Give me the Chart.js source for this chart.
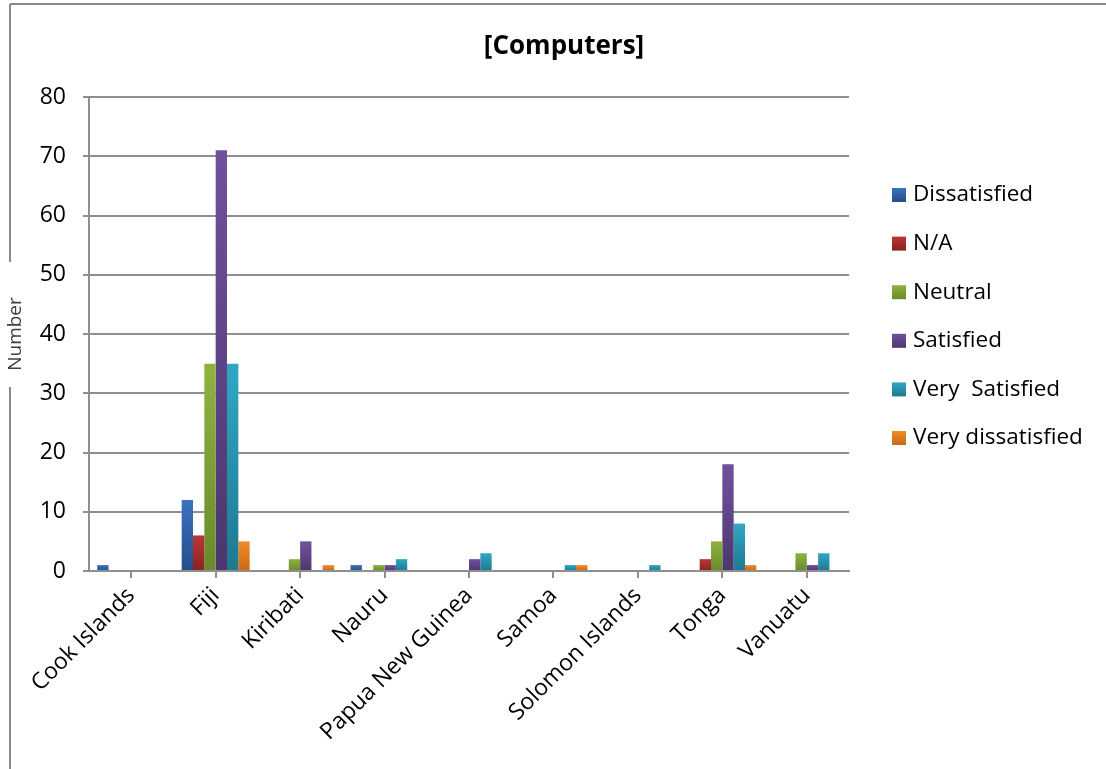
<!DOCTYPE html>
<html>
<head>
<meta charset="utf-8">
<script src="https://cdn.jsdelivr.net/npm/chart.js@4.4.1/dist/chart.umd.min.js"></script>
<style>
  html, body { margin: 0; padding: 0; background: #fff; }
  #wrap { width: 1106px; height: 769px; }
</style>
</head>
<body>
<div id="wrap"><canvas id="computersChart" width="1106" height="769"></canvas></div>
<script>
const countries = ["Cook Islands", "Fiji", "Kiribati", "Nauru", "Papua New Guinea", "Samoa", "Solomon Islands", "Tonga", "Vanuatu"];

const dissatisfied     = [1, 12, 0, 1, 0, 0, 0, 0, 0];
const notApplicable    = [0, 6, 0, 0, 0, 0, 0, 2, 0];
const neutral          = [0, 35, 2, 1, 0, 0, 0, 5, 3];
const satisfied        = [0, 71, 5, 1, 2, 0, 0, 18, 1];
const verySatisfied    = [0, 35, 0, 2, 3, 1, 1, 8, 3];
const veryDissatisfied = [0, 5, 1, 0, 0, 1, 0, 1, 0];

const yTicks = [0, 10, 20, 30, 40, 50, 60, 70, 80];

const chartTitle = "[Computers]";

// [top colour, bottom colour] for each series
const shades = {
  "Dissatisfied":       ["#3b72c0", "#244e88"],
  "N/A":                ["#bb3733", "#8a2222"],
  "Neutral":            ["#8fb340", "#688a2d"],
  "Satisfied":          ["#71519e", "#4c376e"],
  "Very  Satisfied":    ["#2fa8c4", "#1f7890"],
  "Very dissatisfied":  ["#f28c2a", "#c66816"]
};

const FONT = "'Open Sans', 'DejaVu Sans', sans-serif";

function barFill(ctx) {
  const chart = ctx.chart;
  const pair = shades[ctx.dataset.label];
  if (!chart.chartArea || ctx.type !== "data") return pair[0];
  const y = chart.scales.y;
  const top = y.getPixelForValue(ctx.raw || 0);
  const bottom = y.getPixelForValue(0);
  if (bottom - top < 1) return pair[0];
  const g = chart.ctx.createLinearGradient(0, top, 0, bottom);
  g.addColorStop(0, pair[0]);
  g.addColorStop(1, pair[1]);
  return g;
}

function series(label, values) {
  return { label: label, data: values, backgroundColor: barFill, borderWidth: 0 };
}

// outer frame (with a gap where the axis title sits) and the heading
const framePlugin = {
  id: "frame",
  beforeDraw(chart) {
    const c = chart.ctx;
    c.save();
    c.fillStyle = "#fff";
    c.fillRect(0, 0, chart.width, chart.height);
    c.strokeStyle = "#8a8a8a";
    c.lineWidth = 2;
    c.beginPath();
    c.moveTo(10, 4); c.lineTo(chart.width, 4);
    c.moveTo(10, 4); c.lineTo(10, 262);
    c.moveTo(10, 387); c.lineTo(10, chart.height);
    c.stroke();
    c.font = "bold 26px " + FONT;
    c.fillStyle = "#000";
    c.textAlign = "center";
    c.textBaseline = "middle";
    c.fillText(chartTitle, 564, 47);
    c.restore();
  }
};

// legend drawn beside the plot
const sideLegend = {
  id: "sideLegend",
  afterDraw(chart) {
    const c = chart.ctx;
    c.save();
    c.font = "22.5px " + FONT;
    c.textBaseline = "middle";
    chart.data.datasets.forEach((ds, i) => {
      const cy = 195 + i * 48.6;
      const pair = shades[ds.label];
      const g = c.createLinearGradient(0, cy - 7, 0, cy + 7);
      g.addColorStop(0, pair[0]);
      g.addColorStop(1, pair[1]);
      c.fillStyle = g;
      c.fillRect(892, cy - 7, 14, 14);
      c.fillStyle = "#000";
      c.fillText(ds.label, 913, cy);
    });
    c.restore();
  }
};

new Chart(document.getElementById("computersChart"), {
  type: "bar",
  data: {
    labels: countries,
    datasets: [
      series("Dissatisfied", dissatisfied),
      series("N/A", notApplicable),
      series("Neutral", neutral),
      series("Satisfied", satisfied),
      series("Very  Satisfied", verySatisfied),
      series("Very dissatisfied", veryDissatisfied)
    ]
  },
  options: {
    responsive: false,
    animation: false,
    layout: { padding: { left: 0, right: 257, top: 97, bottom: 0 } },
    datasets: { bar: { categoryPercentage: 0.805, barPercentage: 1 } },
    plugins: {
      legend: { display: false },
      tooltip: { enabled: false },
      title: { display: false }
    },
    scales: {
      x: {
        afterFit(scale) { scale.height = 198; },
        grid: { display: true, drawOnChartArea: false, offset: false, tickLength: 7, color: "#8f8f8f", lineWidth: 2 },
        border: { color: "#8f8f8f", width: 2 },
        ticks: {
          color: "#000",
          font: { family: FONT, size: 23 },
          minRotation: 45,
          maxRotation: 45,
          autoSkip: false,
          padding: 4
        }
      },
      y: {
        min: 0,
        max: 80,
        afterFit(scale) { scale.width = 89; },
        afterBuildTicks(scale) { scale.ticks = yTicks.map(v => ({ value: v })); },
        grid: { color: "#8f8f8f", lineWidth: 2, tickLength: 6 },
        border: { color: "#8f8f8f", width: 2 },
        ticks: {
          color: "#000",
          font: { family: FONT, size: 23 },
          padding: 17
        },
        title: {
          display: true,
          text: "Number",
          color: "#404040",
          font: { family: FONT, size: 19 },
          padding: { top: 4, bottom: 0 }
        }
      }
    }
  },
  plugins: [framePlugin, sideLegend]
});
</script>
</body>
</html>
